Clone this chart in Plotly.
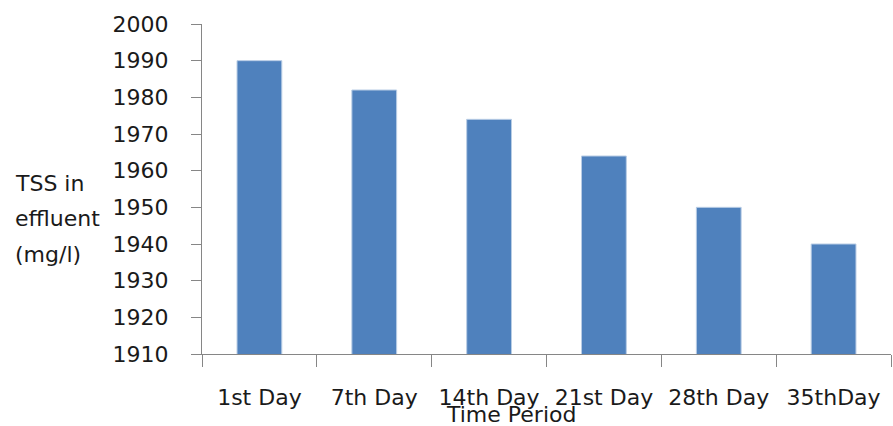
import plotly.graph_objects as go

periods = ["1st Day", "7th Day", "14th Day", "21st Day", "28th Day", "35thDay"]
tss_effluent = [1990, 1982, 1974, 1964, 1950, 1940]
y_ticks = [1910, 1920, 1930, 1940, 1950, 1960, 1970, 1980, 1990, 2000]
y_title_lines = ["TSS in", "effluent", "(mg/l)"]

font_family = "DejaVu Sans"
font_size = 22
axis_gray = "#868686"

# plot area in pixels
left, right, top, bottom = 202, 2, 24, 72
width, height = 893, 426
plot_w = width - left - right
plot_h = height - top - bottom

fig = go.Figure(
    go.Bar(
        x=periods,
        y=tss_effluent,
        marker=dict(color="#4F81BD", line=dict(color="#B9CDE5", width=1)),
    )
)

fig.update_layout(
    width=width,
    height=height,
    margin=dict(l=left, r=right, t=top, b=bottom),
    paper_bgcolor="white",
    plot_bgcolor="white",
    bargap=0.61,
    showlegend=False,
    font=dict(family=font_family, size=font_size, color="#1a1a1a"),
)

fig.update_xaxes(
    type="category",
    showline=True,
    linecolor=axis_gray,
    linewidth=1,
    ticks="outside",
    tickson="boundaries",
    ticklen=12,
    tickcolor=axis_gray,
    showgrid=False,
    tickfont=dict(family=font_family, size=font_size),
    ticklabelstandoff=24,
)

fig.update_yaxes(
    range=[1910, 2000],
    tickvals=y_ticks,
    showline=True,
    linecolor=axis_gray,
    linewidth=1,
    ticks="outside",
    ticklen=10,
    tickcolor=axis_gray,
    showgrid=False,
    zeroline=False,
    tickfont=dict(family=font_family, size=font_size),
    ticklabelstandoff=18,
)

# y-axis title, one line per annotation for wider line spacing
for i, line in enumerate(y_title_lines):
    py = 183 + i * 36
    fig.add_annotation(
        text=line,
        xref="paper", yref="paper",
        x=(13 - left) / plot_w, y=(height - bottom - py) / plot_h,
        xanchor="left", yanchor="middle",
        showarrow=False,
        font=dict(family=font_family, size=font_size),
    )

fig.add_annotation(
    text="Time Period",
    xref="paper", yref="paper",
    x=(511 - left) / plot_w, y=-(414 - (height - bottom)) / plot_h,
    xanchor="center", yanchor="middle",
    showarrow=False,
    font=dict(family=font_family, size=font_size),
)

fig.write_html("out.html")
